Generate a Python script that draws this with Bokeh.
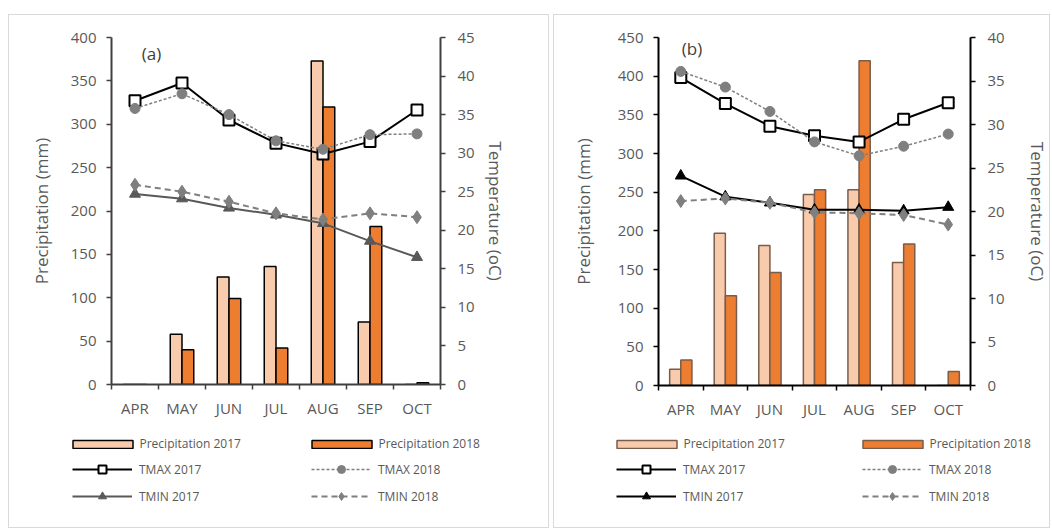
import numpy as np
from bokeh.plotting import figure
from bokeh.models import (Range1d, LinearAxis, FixedTicker, SingleIntervalTicker,
                          Legend, LegendItem, Label)
from bokeh.layouts import row, column
from bokeh.embed import file_html
from bokeh.resources import INLINE

months = ["APR", "MAY", "JUN", "JUL", "AUG", "SEP", "OCT"]

# Panel (a)
a_prec_2017 = [0, 58, 124, 136, 373, 72, 0]
a_prec_2018 = [0, 40, 99, 42, 320, 182, 2]
a_tmax_2017 = [36.8, 39.1, 34.3, 31.3, 29.9, 31.5, 35.6]
a_tmax_2018 = [35.8, 37.7, 35.0, 31.6, 30.5, 32.4, 32.5]
a_tmin_2017 = [24.7, 24.1, 22.9, 22.0, 20.9, 18.6, 16.5]
a_tmin_2018 = [25.9, 25.0, 23.7, 22.2, 21.4, 22.2, 21.7]

# Panel (b)
b_prec_2017 = [21, 197, 181, 247, 253, 159, 0]
b_prec_2018 = [33, 116, 146, 253, 420, 183, 18]
b_tmax_2017 = [35.4, 32.4, 29.8, 28.7, 28.0, 30.6, 32.5]
b_tmax_2018 = [36.1, 34.3, 31.5, 28.0, 26.4, 27.5, 28.9]
b_tmin_2017 = [24.1, 21.7, 21.0, 20.2, 20.2, 20.1, 20.5]
b_tmin_2018 = [21.2, 21.5, 21.0, 19.9, 19.8, 19.6, 18.5]

series_names = ["Precipitation 2017", "Precipitation 2018",
                "TMAX 2017", "TMAX 2018", "TMIN 2017", "TMIN 2018"]

FONT = "Open Sans"
GRAY_TXT = "#595959"
C17 = "#F8CBAD"
C18 = "#ED7D31"
BORDER = "1px solid #d9d9d9"


def styles_for(bar_line, tmin17_col):
    return dict(
        b17=dict(fill_color=C17, line_color=bar_line, line_width=1.5),
        b18=dict(fill_color=C18, line_color=bar_line, line_width=1.5),
        l1=dict(line_color="black", line_width=2),
        m1=dict(marker="square", size=11, fill_color="white",
                line_color="black", line_width=2),
        l2=dict(line_color="#7f7f7f", line_width=1.5, line_dash="3 2"),
        m2=dict(marker="circle", size=10, fill_color="#7f7f7f", line_color="#7f7f7f"),
        l3=dict(line_color=tmin17_col, line_width=2),
        m3=dict(marker="triangle", size=11, fill_color=tmin17_col, line_color=tmin17_col),
        l4=dict(line_color="#7f7f7f", line_width=2, line_dash="6 4"),
        m4=dict(marker="diamond", size=13, fill_color="#7f7f7f", line_color="#7f7f7f"),
    )


def draw_series(fig, xc, prec17, prec18, tmax17, tmax18, tmin17, tmin18, st,
                visible=True, yname=None):
    kw = dict(visible=visible)
    tk = dict(visible=visible)
    if yname:
        tk["y_range_name"] = yname
    r = {}
    r["b17"] = fig.vbar(x=xc - 0.125, top=prec17, width=0.25, bottom=0, **st["b17"], **kw)
    r["b18"] = fig.vbar(x=xc + 0.125, top=prec18, width=0.25, bottom=0, **st["b18"], **kw)
    r["l1"] = fig.line(xc, tmax17, **st["l1"], **tk)
    r["m1"] = fig.scatter(xc, tmax17, **st["m1"], **tk)
    r["l2"] = fig.line(xc, tmax18, **st["l2"], **tk)
    r["m2"] = fig.scatter(xc, tmax18, **st["m2"], **tk)
    r["l3"] = fig.line(xc, tmin17, **st["l3"], **tk)
    r["m3"] = fig.scatter(xc, tmin17, **st["m3"], **tk)
    r["l4"] = fig.line(xc, tmin18, **st["l4"], **tk)
    r["m4"] = fig.scatter(xc, tmin18, **st["m4"], **tk)
    return r


def make_panel(tag, prec17, prec18, tmax17, tmax18, tmin17, tmin18,
               pmax, tmaxax, width, bl, br, bt, bb, axis_col, bar_line,
               tmin17_col, tag_xy, leg_x, col_gap, left_title_standoff,
               right_title_standoff, margin):
    n = len(months)
    xc = np.arange(n) + 0.5
    st = styles_for(bar_line, tmin17_col)
    chart_h = 406
    p = figure(width=width, height=chart_h, x_range=Range1d(0, n),
               y_range=Range1d(0, pmax), output_backend="svg",
               toolbar_location=None, min_border_left=bl, min_border_right=br,
               min_border_top=bt, min_border_bottom=bb,
               styles={"border-top": BORDER, "border-left": BORDER,
                       "border-right": BORDER})
    p.frame_align = False
    p.outline_line_color = None
    p.grid.visible = False
    p.background_fill_color = "white"
    p.border_fill_color = "white"
    p.extra_y_ranges = {"temp": Range1d(0, tmaxax)}

    # x axis
    xa = p.xaxis[0]
    xa.ticker = FixedTicker(ticks=list(xc), minor_ticks=list(range(n + 1)))
    xa.major_label_overrides = {float(x): m for x, m in zip(xc, months)}
    xa.major_tick_line_color = None
    xa.major_tick_out = 0
    xa.major_tick_in = 0
    xa.minor_tick_line_color = axis_col
    xa.minor_tick_line_width = 1.5
    xa.minor_tick_out = 5
    xa.minor_tick_in = 0
    xa.axis_line_color = axis_col
    xa.axis_line_width = 2
    xa.major_label_standoff = 8
    xa.major_label_text_font = FONT
    xa.major_label_text_font_size = "15px"
    xa.major_label_text_color = GRAY_TXT

    # left / right axes
    ya = p.yaxis[0]
    ya.ticker = SingleIntervalTicker(interval=50)
    ya.axis_label = "Precipitation (mm)"
    yr = LinearAxis(y_range_name="temp", axis_label="Temperature (oC)",
                    ticker=SingleIntervalTicker(interval=5))
    p.add_layout(yr, "right")

    for ax in (ya, yr):
        ax.axis_line_color = axis_col
        ax.axis_line_width = 2
        ax.major_tick_line_color = axis_col
        ax.major_tick_line_width = 1.5
        ax.major_tick_out = 5
        ax.major_tick_in = 0
        ax.minor_tick_line_color = None
        ax.major_label_standoff = 10
        ax.major_label_text_font = FONT
        ax.major_label_text_font_size = "15px"
        ax.major_label_text_color = GRAY_TXT
        ax.axis_label_text_font = FONT
        ax.axis_label_text_font_size = "17px"
        ax.axis_label_text_font_style = "normal"
        ax.axis_label_text_color = GRAY_TXT
    yr.major_label_standoff = 12
    ya.axis_label_standoff = left_title_standoff
    yr.axis_label_standoff = right_title_standoff

    draw_series(p, xc, prec17, prec18, tmax17, tmax18, tmin17, tmin18, st,
                visible=True, yname="temp")

    p.add_layout(Label(x=tag_xy[0], y=tag_xy[1], text=tag, text_align="center",
                       text_baseline="middle", text_font=FONT,
                       text_font_size="17px", text_color="#404040"))

    # ---- legend strip: same series, hidden, used only for legend samples
    leg_h = 514 - chart_h
    q = figure(width=width, height=leg_h, x_range=Range1d(0, n),
               y_range=Range1d(0, pmax), output_backend="svg",
               toolbar_location=None, min_border=0,
               x_axis_location=None, y_axis_location=None,
               styles={"border-bottom": BORDER, "border-left": BORDER,
                       "border-right": BORDER})
    q.frame_align = False
    q.grid.visible = False
    q.outline_line_color = None
    rr = draw_series(q, xc, prec17, prec18, tmax17, tmax18, tmin17, tmin18, st,
                     visible=False)

    common = dict(padding=0, margin=0, border_line_color=None,
                  background_fill_alpha=0, label_text_font=FONT,
                  label_text_font_size="12px", label_text_color=GRAY_TXT,
                  inactive_fill_alpha=0)
    x1 = leg_x
    leg_a = Legend(items=[LegendItem(label=series_names[0], renderers=[rr["b17"]]),
                          LegendItem(label=series_names[1], renderers=[rr["b18"]])],
                   orientation="horizontal", location=(x1 - 7.5, 76),
                   glyph_width=75, glyph_height=10, label_height=10,
                   label_standoff=0, label_width=col_gap - 82, spacing=7,
                   **common)
    leg_b = Legend(items=[LegendItem(label=series_names[2], renderers=[rr["l1"], rr["m1"]]),
                          LegendItem(label=series_names[4], renderers=[rr["l3"], rr["m3"]]),
                          LegendItem(label=series_names[3], renderers=[rr["l2"], rr["m2"]]),
                          LegendItem(label=series_names[5], renderers=[rr["l4"], rr["m4"]])],
                   orientation="vertical", ncols=2, location=(x1, 22),
                   glyph_width=60, glyph_height=20, label_height=20,
                   label_standoff=7, label_width=col_gap - 74, spacing=7,
                   **common)
    q.add_layout(leg_a, "center")
    q.add_layout(leg_b, "center")
    return column(p, q, spacing=0, margin=margin)


pa = make_panel("(a)", a_prec_2017, a_prec_2018, a_tmax_2017, a_tmax_2018,
                a_tmin_2017, a_tmin_2018, 400, 45, 541, 102, 110, 22, 37,
                "#404040", "black", "#595959", (0.85, 381), 63, 239, 15, 6,
                (14, 0, 0, 8))
pb = make_panel("(b)", b_prec_2017, b_prec_2018, b_tmax_2017, b_tmax_2018,
                b_tmin_2017, b_tmin_2018, 450, 40, 497, 104, 64, 22, 35,
                "black", "#7a5c4a", "black", (0.75, 436), 62, 246, 20, 18,
                (14, 0, 0, 0))

layout = row(pa, pb, spacing=4)
open("out.html", "w").write(file_html(layout, INLINE))
